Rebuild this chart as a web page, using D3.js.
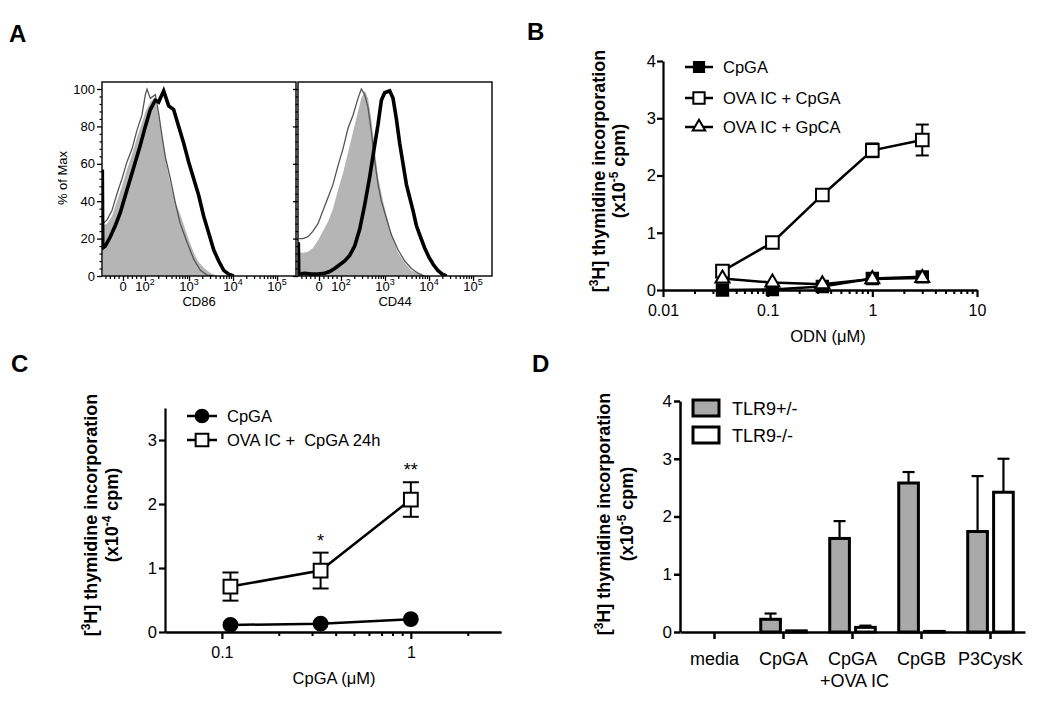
<!DOCTYPE html>
<html>
<head>
<meta charset="utf-8">
<script src="https://cdn.jsdelivr.net/npm/d3@7"></script>
<style>
  body { margin: 0; background: #fff; }
  svg { display: block; }
</style>
</head>
<body>
<svg id="fig" width="1050" height="709"></svg>
<script>
// ========================
// Data
// ========================
// Panel A: flow histograms. x in display decades (0 sits at 1.5, 10^2 at 2, 10^3 at 3 ...), y in % of max
const cd86Shaded = [[1.04,27],[1.136,28],[1.25,32],[1.364,40],[1.477,48],[1.59,57],[1.705,65],[1.818,74],[1.93,82],[2.01,88],[2.12,93],[2.2,95],[2.27,90],[2.35,80],[2.42,70],[2.5,58],[2.6,47],[2.7,39],[2.8,33],[2.9,26],[3.0,19],[3.1,13],[3.2,8],[3.35,4],[3.5,1.5],[3.65,0]];
const cd86Thin = [[1.04,28],[1.136,30],[1.25,35],[1.364,44],[1.477,52],[1.59,61],[1.705,68],[1.818,78],[1.93,86],[2.008,97],[2.045,100],[2.12,95],[2.235,97],[2.31,87],[2.386,75],[2.46,64],[2.576,52],[2.69,39],[2.8,28],[2.955,18],[3.106,9],[3.258,3],[3.41,0.5],[3.56,0]];
const cd86Bold = [[1.03,57],[1.04,15],[1.098,16],[1.212,21],[1.326,27],[1.44,34],[1.553,43],[1.667,52],[1.78,61],[1.894,70],[2.008,80],[2.12,89],[2.235,94],[2.31,93],[2.424,99],[2.538,91],[2.65,89],[2.765,80],[2.879,71],[2.992,61],[3.106,52],[3.22,43],[3.333,32],[3.447,23],[3.56,14],[3.674,8],[3.788,3],[3.9,1],[4.015,0]];

const cd44Shaded = [[1.04,12.5],[1.136,12.5],[1.25,13],[1.364,15],[1.477,19],[1.591,24],[1.705,29],[1.818,36],[1.932,46],[2.045,55],[2.159,66],[2.273,77],[2.386,88],[2.462,95],[2.538,99],[2.614,95],[2.689,84],[2.765,68],[2.841,53],[2.955,40],[3.068,29],[3.182,20],[3.295,12.5],[3.447,7],[3.598,3],[3.75,1.5],[3.9,0]];
const cd44Thin = [[1.04,20],[1.136,20],[1.25,21],[1.364,24],[1.477,28],[1.591,35],[1.705,42],[1.818,49],[1.932,59],[2.045,68],[2.159,79],[2.273,86],[2.386,95],[2.462,100],[2.538,97],[2.614,90],[2.689,77],[2.765,62],[2.841,49],[2.917,40],[3.03,31],[3.144,22],[3.295,14],[3.447,8],[3.598,4],[3.75,1.5],[3.9,0]];
const cd44Bold = [[1.03,18],[1.04,1],[1.174,1.5],[1.326,1],[1.477,1],[1.629,1.5],[1.742,2.4],[1.856,4],[1.97,6],[2.083,8],[2.197,11],[2.31,16],[2.424,25],[2.538,38],[2.652,53],[2.765,70],[2.841,81],[2.917,94],[2.992,98],[3.106,99],[3.182,95],[3.258,84],[3.333,71],[3.409,60],[3.485,49],[3.56,42],[3.636,35],[3.712,27],[3.788,22],[3.9,15],[4.0,10],[4.1,6],[4.2,3],[4.3,1],[4.4,0]];

const flowYTicks = [0, 20, 40, 60, 80, 100];
const flowXTicks = [1.5, 2, 3, 4, 5];
const flowXBase = ["0", "10", "10", "10", "10"];
const flowXExp = ["", "2", "3", "4", "5"];
const flowXMinor = [1.1, 1.2, 1.3, 1.4, 1.6, 1.7, 1.8, 1.9];

// Panel B: ODN titration
const bDose = [0.037, 0.111, 0.333, 1, 3];
const bCpGA = [0.0, 0.01, 0.06, 0.2, 0.23];
const bOvaCpGA = [0.33, 0.83, 1.66, 2.44, 2.62];
const bOvaCpGAErr = [0.0, 0.0, 0.0, 0.12, 0.27];
const bOvaGpCA = [0.2, 0.13, 0.1, 0.19, 0.21];
const bSeries = ["CpGA", "OVA IC + CpGA", "OVA IC + GpCA"];
const bYTicks = [0, 1, 2, 3, 4];
const bXTicks = [0.01, 0.1, 1, 10];
const bXLabels = ["0.01", "0.1", "1", "10"];

// Panel C: CpGA after 24h OVA IC
const cDose = [0.111, 0.333, 1];
const cCpGA = [0.11, 0.13, 0.2];
const cOvaCpGA = [0.71, 0.96, 2.07];
const cOvaCpGAErr = [0.22, 0.28, 0.27];
const cStars = ["", "*", "**"];
const cSeries = ["CpGA", "OVA IC +  CpGA 24h"];
const cYTicks = [0, 1, 2, 3];
const cXTicks = [0.1, 1];
const cXLabels = ["0.1", "1"];
const cXMinor = [0.2, 0.3, 0.4, 0.5, 0.6, 0.7, 0.8, 0.9, 2];

// Panel D: TLR9 bars
const dCategories = ["media", "CpGA", "CpGA|+OVA IC", "CpGB", "P3CysK"];
const dGroups = ["TLR9+/-", "TLR9-/-"];
const dHet = [0.0, 0.22, 1.62, 2.58, 1.74];
const dHetErr = [0.0, 0.1, 0.3, 0.19, 0.96];
const dKo = [0.0, 0.02, 0.08, 0.01, 2.42];
const dKoErr = [0.0, 0.0, 0.03, 0.0, 0.58];
const dYTicks = [0, 1, 2, 3, 4];

// ========================
// Setup
// ========================
const FONT = '"Liberation Sans", Arial, Helvetica, sans-serif';
const svg = d3.select("#fig").attr("font-family", FONT);
svg.append("rect").attr("width", 1050).attr("height", 709).attr("fill", "#fff");

function panelLetter(x, y, t) {
    svg.append("text").attr("x", x).attr("y", y)
        .attr("font-size", 24).attr("font-weight", "bold").text(t);
}

function styleAxis(g, size, width) {
    g.attr("font-family", FONT).attr("font-size", size);
    g.selectAll("path, line").attr("stroke", "#000").attr("stroke-width", width);
    g.selectAll("text").attr("fill", "#000");
}

// two-line rotated y title with superscripts
function yTitle(x1, x2, cy, exp) {
    const t1 = svg.append("text")
        .attr("transform", `translate(${x1},${cy}) rotate(-90)`)
        .attr("text-anchor", "middle").attr("font-weight", "bold").attr("font-size", 18);
    t1.append("tspan").text("[");
    t1.append("tspan").attr("dy", -7).attr("font-size", 12).text("3");
    t1.append("tspan").attr("dy", 7).text("H] thymidine incorporation");
    const t2 = svg.append("text")
        .attr("transform", `translate(${x2},${cy}) rotate(-90)`)
        .attr("text-anchor", "middle").attr("font-weight", "bold").attr("font-size", 18);
    t2.append("tspan").text("(x10");
    t2.append("tspan").attr("dy", -7).attr("font-size", 12).text(exp);
    t2.append("tspan").attr("dy", 7).text(" cpm)");
}

// ========================
// Panel A
// ========================
panelLetter(9, 42, "A");
const flowY = d3.scaleLinear().domain([0, 100]).range([276, 89]);
const flowBoxes = [
    { left: 102, name: "CD86", shaded: cd86Shaded, thin: cd86Thin, bold: cd86Bold, labels: true },
    { left: 298, name: "CD44", shaded: cd44Shaded, thin: cd44Thin, bold: cd44Bold, labels: false }
];
const boxW = 194, boxTop = 82, boxBottom = 276;

flowBoxes.forEach((b, i) => {
    const x = d3.scaleLinear().domain([1.023, 5.43]).range([b.left, b.left + boxW]);
    const g = svg.append("g");

    g.append("clipPath").attr("id", "clipA" + i)
        .append("rect").attr("x", b.left).attr("y", boxTop)
        .attr("width", boxW).attr("height", boxBottom - boxTop);
    const plot = g.append("g").attr("clip-path", `url(#clipA${i})`);

    const area = d3.area().x(d => x(d[0])).y0(flowY(0)).y1(d => flowY(d[1]));
    const line = d3.line().x(d => x(d[0])).y(d => flowY(d[1]));

    plot.append("path").attr("d", area(b.shaded)).attr("fill", "#b5b5b5");
    plot.append("path").attr("d", line(b.thin)).attr("fill", "none")
        .attr("stroke", "#555").attr("stroke-width", 1.3);
    plot.append("path").attr("d", line(b.bold)).attr("fill", "none")
        .attr("stroke", "#000").attr("stroke-width", 3.6).attr("stroke-linejoin", "miter");

    g.append("rect").attr("x", b.left).attr("y", boxTop)
        .attr("width", boxW).attr("height", boxBottom - boxTop)
        .attr("fill", "none").attr("stroke", "#000").attr("stroke-width", 1.4);

    // y axis
    const yAx = g.append("g").attr("transform", `translate(${b.left},0)`)
        .call(d3.axisLeft(flowY).tickValues(flowYTicks).tickSize(5).tickPadding(2).tickSizeOuter(0)
            .tickFormat(b.labels ? d3.format("d") : ""));
    styleAxis(yAx, 13, 1.3);
    yAx.select(".domain").remove();
    const yMin = g.append("g").attr("transform", `translate(${b.left},0)`)
        .call(d3.axisLeft(flowY).tickValues(d3.range(0, 101, 4).filter(v => v % 20)).tickSize(2.5).tickFormat("").tickSizeOuter(0));
    styleAxis(yMin, 10, 1.2);
    yMin.select(".domain").remove();

    // x axis
    const minor = flowXMinor.concat(d3.range(2, 5).flatMap(n => d3.range(2, 10).map(k => n + Math.log10(k))));
    const xMin = g.append("g").attr("transform", `translate(0,${boxBottom})`)
        .call(d3.axisBottom(x).tickValues(minor).tickSize(3).tickFormat("").tickSizeOuter(0));
    styleAxis(xMin, 10, 1.2);
    xMin.select(".domain").remove();
    const xAx = g.append("g").attr("transform", `translate(0,${boxBottom})`)
        .call(d3.axisBottom(x).tickValues(flowXTicks).tickSize(5).tickFormat("").tickSizeOuter(0));
    styleAxis(xAx, 10, 1.3);
    xAx.select(".domain").remove();

    const lab = g.selectAll(".flowlab").data(flowXTicks).join("text")
        .attr("class", "flowlab")
        .attr("x", d => x(d)).attr("y", 291)
        .attr("text-anchor", "middle").attr("font-size", 13);
    lab.append("tspan").text((d, j) => flowXBase[j]);
    lab.append("tspan").attr("dy", -6).attr("font-size", 9).text((d, j) => flowXExp[j]);

    g.append("text").attr("x", b.left + boxW / 2).attr("y", 306)
        .attr("text-anchor", "middle").attr("font-size", 13).text(b.name);
});

svg.append("text").attr("transform", "translate(67,178) rotate(-90)")
    .attr("text-anchor", "middle").attr("font-size", 13).text("% of Max");

// ========================
// Panel B
// ========================
panelLetter(527, 40, "B");
const xB = d3.scaleLog().domain([0.01, 10]).range([663, 977]);
const yB = d3.scaleLinear().domain([0, 4]).range([290, 61]);

const bMinorAx = svg.append("g").attr("transform", "translate(0,290)")
    .call(d3.axisBottom(xB).tickValues(xB.ticks().filter(v => !bXTicks.includes(v))).tickSize(4).tickFormat("").tickSizeOuter(0));
styleAxis(bMinorAx, 10, 2);
const bXAx = svg.append("g").attr("transform", "translate(0,290)")
    .call(d3.axisBottom(xB).tickValues(bXTicks).tickSize(7).tickPadding(8).tickSizeOuter(0)
        .tickFormat((d, i) => bXLabels[i]));
styleAxis(bXAx, 16, 2.2);
const bYAx = svg.append("g").attr("transform", "translate(663,0)")
    .call(d3.axisLeft(yB).tickValues(bYTicks).tickSize(6).tickPadding(1).tickSizeOuter(0).tickFormat(d3.format("d")));
styleAxis(bYAx, 16.5, 2.2);

svg.append("text").attr("x", 828).attr("y", 342).attr("text-anchor", "middle")
    .attr("font-size", 16.5).text("ODN (\u03BCM)");
yTitle(605, 625, 171, "-5");

const lineB = d3.line().x(d => xB(d[0])).y(d => yB(d[1]));
const bData = [bCpGA, bOvaCpGA, bOvaGpCA].map(vals => bDose.map((d, i) => [d, vals[i]]));

// error bars
const bErr = svg.append("g").attr("stroke", "#000").attr("stroke-width", 2);
bDose.forEach((d, i) => {
    if (!bOvaCpGAErr[i]) return;
    const cx = xB(d), y1 = yB(bOvaCpGA[i] + bOvaCpGAErr[i]), y2 = yB(bOvaCpGA[i] - bOvaCpGAErr[i]);
    bErr.append("line").attr("x1", cx).attr("x2", cx).attr("y1", y1).attr("y2", y2);
    bErr.append("line").attr("x1", cx - 6.5).attr("x2", cx + 6.5).attr("y1", y1).attr("y2", y1);
    bErr.append("line").attr("x1", cx - 6.5).attr("x2", cx + 6.5).attr("y1", y2).attr("y2", y2);
});

const bSymbols = [
    { type: d3.symbolSquare, size: 130, fill: "#000" },
    { type: d3.symbolSquare, size: 160, fill: "#fff" },
    { type: d3.symbolTriangle, size: 85, fill: "#fff" }
];
bData.forEach((pts, s) => {
    svg.append("path").attr("d", lineB(pts)).attr("fill", "none")
        .attr("stroke", "#000").attr("stroke-width", 2.5);
});
bData.forEach((pts, s) => {
    svg.append("g").selectAll("path").data(pts).join("path")
        .attr("transform", d => `translate(${xB(d[0])},${yB(d[1])})`)
        .attr("d", d3.symbol().type(bSymbols[s].type).size(bSymbols[s].size))
        .attr("fill", bSymbols[s].fill).attr("stroke", "#000").attr("stroke-width", 2);
});

// legend B
const bLegY = [67, 98, 127];
bSeries.forEach((name, s) => {
    const g = svg.append("g").attr("transform", `translate(699,${bLegY[s]})`);
    g.append("line").attr("x1", -14).attr("x2", 14).attr("stroke", "#000").attr("stroke-width", 2.5);
    g.append("path").attr("d", d3.symbol().type(bSymbols[s].type).size(bSymbols[s].size * 0.8))
        .attr("fill", bSymbols[s].fill).attr("stroke", "#000").attr("stroke-width", 2);
    g.append("text").attr("x", 24).attr("y", 6).attr("font-size", 16.5).text(name);
});

// ========================
// Panel C
// ========================
panelLetter(11, 372, "C");
const xC = d3.scaleLog().domain([0.05, 3]).range([165, 501]);
const yC = d3.scaleLinear().domain([0, 3.5]).range([632, 408]);

const cMinorAx = svg.append("g").attr("transform", "translate(0,632)")
    .call(d3.axisBottom(xC).tickValues(cXMinor).tickSize(4).tickFormat("").tickSizeOuter(0));
styleAxis(cMinorAx, 10, 2);
const cXAx = svg.append("g").attr("transform", "translate(0,632)")
    .call(d3.axisBottom(xC).tickValues(cXTicks).tickSize(7).tickPadding(8).tickSizeOuter(0)
        .tickFormat((d, i) => cXLabels[i]));
styleAxis(cXAx, 16, 2.2);
const cYAx = svg.append("g").attr("transform", "translate(165,0)")
    .call(d3.axisLeft(yC).tickValues(cYTicks).tickSize(6).tickPadding(2).tickSizeOuter(0).tickFormat(d3.format("d")));
styleAxis(cYAx, 16.5, 2.2);

svg.append("text").attr("x", 334).attr("y", 684).attr("text-anchor", "middle")
    .attr("font-size", 16.5).text("CpGA (\u03BCM)");
yTitle(97, 118, 515, "-4");

const lineC = d3.line().x(d => xC(d[0])).y(d => yC(d[1]));
const cData = [cCpGA, cOvaCpGA].map(vals => cDose.map((d, i) => [d, vals[i]]));

const cErr = svg.append("g").attr("stroke", "#000").attr("stroke-width", 2);
cDose.forEach((d, i) => {
    const cx = xC(d), y1 = yC(cOvaCpGA[i] + cOvaCpGAErr[i]), y2 = yC(cOvaCpGA[i] - cOvaCpGAErr[i]);
    cErr.append("line").attr("x1", cx).attr("x2", cx).attr("y1", y1).attr("y2", y2);
    cErr.append("line").attr("x1", cx - 8).attr("x2", cx + 8).attr("y1", y1).attr("y2", y1);
    cErr.append("line").attr("x1", cx - 8).attr("x2", cx + 8).attr("y1", y2).attr("y2", y2);
    svg.append("text").attr("x", cx).attr("y", y1 - 6).attr("text-anchor", "middle")
        .attr("font-size", 18).text(cStars[i]);
});

const cSymbols = [
    { type: d3.symbolCircle, size: 150, fill: "#000" },
    { type: d3.symbolSquare, size: 190, fill: "#fff" }
];
cData.forEach(pts => {
    svg.append("path").attr("d", lineC(pts)).attr("fill", "none")
        .attr("stroke", "#000").attr("stroke-width", 2.5);
});
cData.forEach((pts, s) => {
    svg.append("g").selectAll("path").data(pts).join("path")
        .attr("transform", d => `translate(${xC(d[0])},${yC(d[1])})`)
        .attr("d", d3.symbol().type(cSymbols[s].type).size(cSymbols[s].size))
        .attr("fill", cSymbols[s].fill).attr("stroke", "#000").attr("stroke-width", 2);
});

const cLegY = [416, 440];
cSeries.forEach((name, s) => {
    const g = svg.append("g").attr("transform", `translate(202,${cLegY[s]})`);
    g.append("line").attr("x1", -15).attr("x2", 15).attr("stroke", "#000").attr("stroke-width", 2.5);
    g.append("path").attr("d", d3.symbol().type(cSymbols[s].type).size(cSymbols[s].size * 0.85))
        .attr("fill", cSymbols[s].fill).attr("stroke", "#000").attr("stroke-width", 2);
    g.append("text").attr("x", 25).attr("y", 6).attr("font-size", 16.5).attr("xml:space", "preserve").text(name);
});

// ========================
// Panel D
// ========================
panelLetter(532, 372, "D");
const x0D = d3.scaleBand().domain(dCategories).range([680, 1025]).paddingInner(0.34).paddingOuter(0.17);
const x1D = d3.scaleBand().domain(dGroups).range([0, x0D.bandwidth()]).paddingInner(0.24);
const yD = d3.scaleLinear().domain([0, 4]).range([632, 401]);
const dFill = ["#a9a9a9", "#fff"];

const dRows = dCategories.map((c, i) => ({
    cat: c,
    bars: [
        { grp: dGroups[0], v: dHet[i], e: dHetErr[i] },
        { grp: dGroups[1], v: dKo[i], e: dKoErr[i] }
    ]
}));

const dBars = svg.append("g");
dRows.forEach(row => {
    row.bars.forEach((b, j) => {
        const bx = x0D(row.cat) + x1D(b.grp);
        const w = x1D.bandwidth();
        if (b.e) {
            const cx = bx + w / 2, yt = yD(b.v + b.e);
            dBars.append("line").attr("x1", cx).attr("x2", cx).attr("y1", yD(b.v)).attr("y2", yt)
                .attr("stroke", "#000").attr("stroke-width", 2.2);
            dBars.append("line").attr("x1", cx - 6).attr("x2", cx + 6).attr("y1", yt).attr("y2", yt)
                .attr("stroke", "#000").attr("stroke-width", 2.2);
        }
        dBars.append("rect").attr("x", bx).attr("y", yD(b.v))
            .attr("width", w).attr("height", yD(0) - yD(b.v))
            .attr("fill", dFill[j]).attr("stroke", "#000").attr("stroke-width", 3);
    });
});

const dXAx = svg.append("g").attr("transform", "translate(0,632)")
    .call(d3.axisBottom(x0D).tickSize(7).tickFormat("").tickSizeOuter(0));
styleAxis(dXAx, 10, 2.5);
const dYAx = svg.append("g").attr("transform", "translate(680,0)")
    .call(d3.axisLeft(yD).tickValues(dYTicks).tickSize(6).tickPadding(2).tickSizeOuter(0).tickFormat(d3.format("d")));
styleAxis(dYAx, 17, 2.5);

dCategories.forEach(c => {
    const t = svg.append("text").attr("text-anchor", "middle").attr("font-size", 18);
    c.split("|").forEach((part, k) => {
        t.append("tspan").attr("x", x0D(c) + x0D.bandwidth() / 2 + (k ? 2 : 0)).attr("y", 665 + k * 22).text(part);
    });
});
yTitle(610, 633, 514, "-5");

const dLegY = [400, 427];
dGroups.forEach((name, j) => {
    svg.append("rect").attr("x", 693).attr("y", dLegY[j]).attr("width", 26).attr("height", 16)
        .attr("fill", dFill[j]).attr("stroke", "#000").attr("stroke-width", 3);
    svg.append("text").attr("x", 732).attr("y", dLegY[j] + 15).attr("font-size", 18).text(name);
});
</script>
</body>
</html>
